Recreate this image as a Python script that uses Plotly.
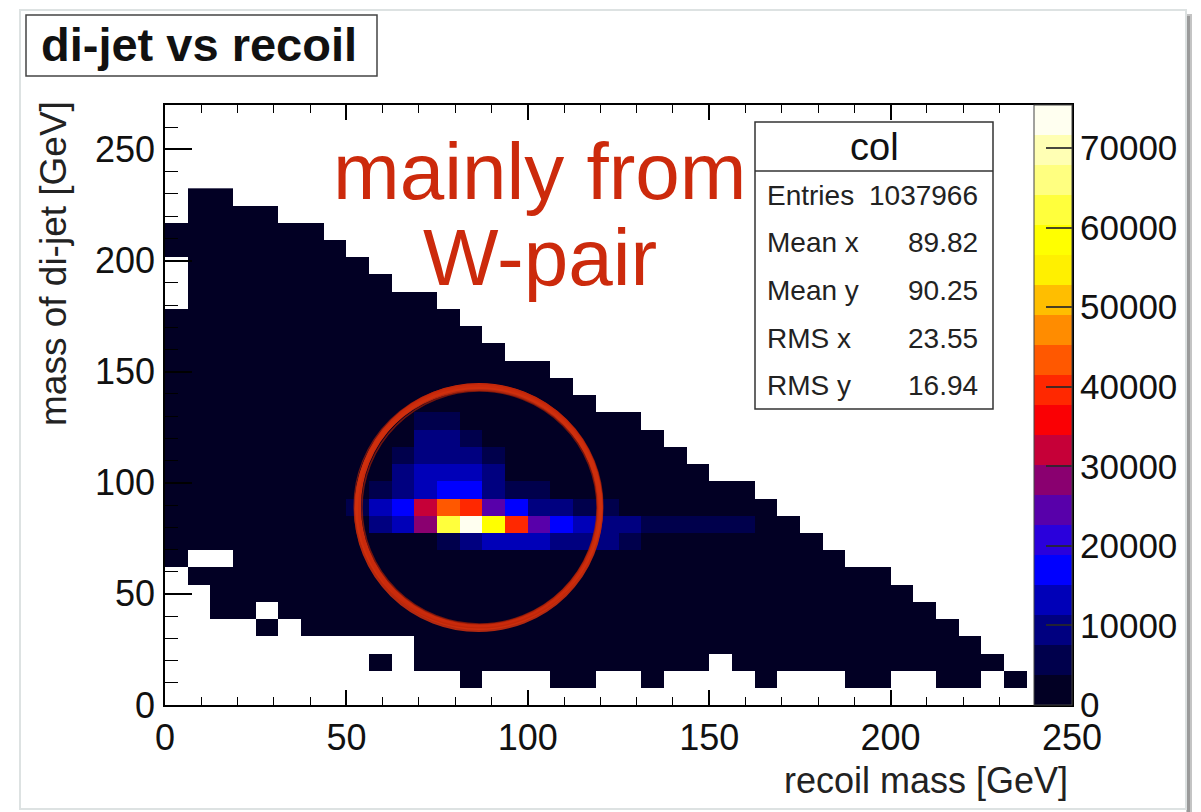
import plotly.graph_objects as go

# ---------------- histogram definition ----------------
X_BIN = 6.25          # recoil mass bin width [GeV], 40 bins over 0-250
Y_BIN = 7.75          # di-jet mass bin width [GeV]
N_X = 40
N_Y = 30

# occupied row span per recoil-mass column: rows col_low .. col_high-1
col_low = [8, 7, 5, 5, 4, 5, 4, 4, 4, 2, 4, 2, 2, 1, 2, 2, 2, 1, 1, 2,
           2, 1, 2, 2, 3, 2, 1, 2, 2, 2, 1, 1, 2, 2, 1, 1, 2, 1, 0, 0]
col_high = [28, 30, 30, 29, 29, 28, 28, 27, 26, 25, 24, 24, 23, 22, 21, 20, 20, 19, 18, 17,
            17, 16, 15, 14, 13, 13, 12, 11, 10, 9, 8, 8, 7, 6, 5, 4, 3, 2, 0, 0]

# empty bins inside the occupied span (column, row)
empty_bins = [(0, 23), (0, 24), (0, 25), (1, 8), (2, 8), (4, 5), (9, 3)]

# typical content of the low-occupancy bins
low_level = 1400

# W-pair core: row -> (first column, bin contents)
core_counts = {
    16: (11, [6900, 6400]),
    15: (11, [7600, 8100, 6600]),
    14: (10, [6300, 8600, 8900, 8200, 6100]),
    13: (10, [7900, 12400, 13100, 11900, 7700]),
    12: (9, [5200, 9900, 13900, 17600, 16800, 9400, 5200, 4900]),
    11: (8, [4900, 11900, 16400, 31800, 43900, 39200, 24100, 16900, 10400, 7900, 6000, 5100]),
    10: (9, [8900, 13600, 28600, 62900, 75400, 58100, 39600, 24800, 17300, 13100,
             10800, 9900, 6200, 5900, 5600, 5400, 5100]),
    9: (12, [5800, 8700, 12800, 13500, 12300, 10200, 9000, 8400, 6300]),
}

# statistics box
stat_names = ["Entries", "Mean x", "Mean y", "RMS x", "RMS y"]
stat_values = ["1037966", "89.82", "90.25", "23.55", "16.94"]

# palette tick labels
cbar_ticks = [0, 10000, 20000, 30000, 40000, 50000, 60000, 70000]
cbar_labels = ["0", "10000", "20000", "30000", "40000", "50000", "60000", "70000"]

# 20-level palette, low to high
palette = ["#020024", "#00004c", "#000080", "#0000b8", "#0000ff",
           "#2a00dc", "#5800aa", "#8a0070", "#c60038", "#fa0004",
           "#ff2800", "#ff5800", "#ff8c00", "#ffbe00", "#fff000",
           "#ffff00", "#ffff3c", "#ffff80", "#ffffb4", "#fffff0"]

# ---------------- build the bin matrix ----------------
x_edges = [i * X_BIN for i in range(N_X + 1)]
y_edges = [j * Y_BIN for j in range(N_Y + 1)]

z = [[None] * N_X for _ in range(N_Y)]
for c in range(N_X):
    for r in range(col_low[c], col_high[c]):
        z[r][c] = low_level
for c, r in empty_bins:
    z[r][c] = None
for r, (c0, vals) in core_counts.items():
    for k, v in enumerate(vals):
        z[r][c0 + k] = v

zmax = max(v for row in z for v in row if v is not None)

colorscale = []
n = len(palette)
for i, col in enumerate(palette):
    colorscale.append([i / n, col])
    colorscale.append([(i + 1) / n, col])

# ---------------- page geometry helpers ----------------
L, R, T, B = 165, 1072, 105, 705


def fx(px):
    return (px - L) / (R - L)


def fy(py):
    return (B - py) / (B - T)


FONT = "Liberation Sans, Arial, Helvetica, sans-serif"

fig = go.Figure()
fig.add_trace(go.Heatmap(
    x=x_edges, y=y_edges, z=z,
    zmin=0, zmax=zmax,
    colorscale=colorscale,
    hoverongaps=False,
    colorbar=dict(
        x=fx(1034), xanchor="left", y=0.5, yanchor="middle",
        len=1, lenmode="fraction", thickness=38, thicknessmode="pixels",
        xpad=0, ypad=0,
        outlinecolor="#444", outlinewidth=1,
        tickmode="array", tickvals=cbar_ticks, ticktext=cbar_labels,
        ticks="inside", ticklen=26, tickwidth=2, tickcolor="rgba(40,40,40,0.85)",
        tickfont=dict(family=FONT, size=35, color="#111"),
    ),
))

axis_common = dict(
    showline=True, linecolor="black", linewidth=1.5, mirror="ticks",
    showgrid=False, zeroline=False,
    ticks="inside", tickcolor="black", tickwidth=1.5,
    tickmode="linear", tick0=0, dtick=50,
    tickfont=dict(family=FONT, size=36, color="#111"),
)
fig.update_xaxes(range=[0, 250], ticklen=15, ticklabelstandoff=0,
                 minor=dict(dtick=10, ticks="inside", ticklen=8, tickwidth=1.2, tickcolor="black"),
                 **axis_common)
fig.update_yaxes(range=[0, 270], ticklen=27, ticklabelstandoff=1,
                 minor=dict(dtick=10, ticks="inside", ticklen=13, tickwidth=1.2, tickcolor="black"),
                 **axis_common)

shapes = [
    # canvas frame with a soft right-hand shadow
    dict(type="rect", xref="paper", yref="paper", x0=fx(1186), x1=fx(1192), y0=fy(812), y1=fy(14),
         fillcolor="#c4c4c4", line=dict(width=0), layer="below"),
    dict(type="rect", xref="paper", yref="paper", x0=fx(1187), x1=fx(1190), y0=fy(812), y1=fy(16),
         fillcolor="#9a9a9a", line=dict(width=0), layer="below"),
    dict(type="rect", xref="paper", yref="paper", x0=fx(20), x1=fx(1186), y0=fy(809), y1=fy(10),
         fillcolor="rgba(0,0,0,0)", line=dict(color="#dde2e2", width=2), layer="below"),
    # title box
    dict(type="rect", xref="paper", yref="paper", x0=fx(26), x1=fx(377), y0=fy(76), y1=fy(15),
         fillcolor="white", line=dict(color="#444", width=1.5)),
    # statistics box
    dict(type="rect", xref="paper", yref="paper", x0=fx(755), x1=fx(993), y0=fy(409), y1=fy(122),
         fillcolor="white", line=dict(color="#333", width=1.5)),
    dict(type="line", xref="paper", yref="paper", x0=fx(755), x1=fx(993), y0=fy(171), y1=fy(171),
         line=dict(color="#333", width=1.5)),
    # hand-drawn ring around the W-pair peak (a few overlapping strokes)
    dict(type="circle", xref="paper", yref="paper", x0=fx(358), x1=fx(600), y0=fy(627), y1=fy(386),
         line=dict(color="#c92a0c", width=6)),
    dict(type="circle", xref="paper", yref="paper", x0=fx(356), x1=fx(601), y0=fy(630), y1=fy(389),
         line=dict(color="#d0300e", width=4), opacity=0.85),
    dict(type="circle", xref="paper", yref="paper", x0=fx(362), x1=fx(597), y0=fy(624), y1=fy(391),
         line=dict(color="#a01e06", width=1.5), opacity=0.7),
    dict(type="circle", xref="paper", yref="paper", x0=fx(354), x1=fx(603), y0=fy(628), y1=fy(384),
         line=dict(color="#b82408", width=1.2), opacity=0.6),
]

annotations = [
    dict(text="<b>di-jet vs recoil</b>", x=fx(199), y=fy(45), xanchor="center", yanchor="middle",
         font=dict(family=FONT, size=47, color="#111")),
    dict(text="recoil mass [GeV]", x=fx(1070), y=fy(780), xanchor="right", yanchor="middle",
         font=dict(family=FONT, size=36, color="#222")),
    dict(text="mass of di-jet [GeV]", x=fx(53), y=fy(264), xanchor="center", yanchor="middle",
         textangle=-90, font=dict(family=FONT, size=37, color="#222")),
    dict(text="mainly from", x=fx(539), y=fy(171), xanchor="center", yanchor="middle",
         font=dict(family=FONT, size=80, color="#cc2a0c")),
    dict(text="W-pair", x=fx(540), y=fy(257), xanchor="center", yanchor="middle",
         font=dict(family=FONT, size=80, color="#cc2a0c")),
    dict(text="col", x=fx(874), y=fy(147), xanchor="center", yanchor="middle",
         font=dict(family=FONT, size=38, color="#111")),
]
stat_rows_y = [196, 242, 290, 338, 385]
for name, val, yy in zip(stat_names, stat_values, stat_rows_y):
    annotations.append(dict(text=name, x=fx(765), y=fy(yy), xanchor="left", yanchor="middle",
                            font=dict(family=FONT, size=28, color="#222")))
    annotations.append(dict(text=val, x=fx(980), y=fy(yy), xanchor="right", yanchor="middle",
                            font=dict(family=FONT, size=28, color="#222")))
for a in annotations:
    a.update(xref="paper", yref="paper", showarrow=False)

fig.update_layout(
    width=1201, height=812,
    margin=dict(l=L, r=1201 - R, t=T, b=812 - B, autoexpand=False),
    paper_bgcolor="white", plot_bgcolor="white",
    shapes=shapes, annotations=annotations,
    font=dict(family=FONT),
)

fig.write_html("out.html")
